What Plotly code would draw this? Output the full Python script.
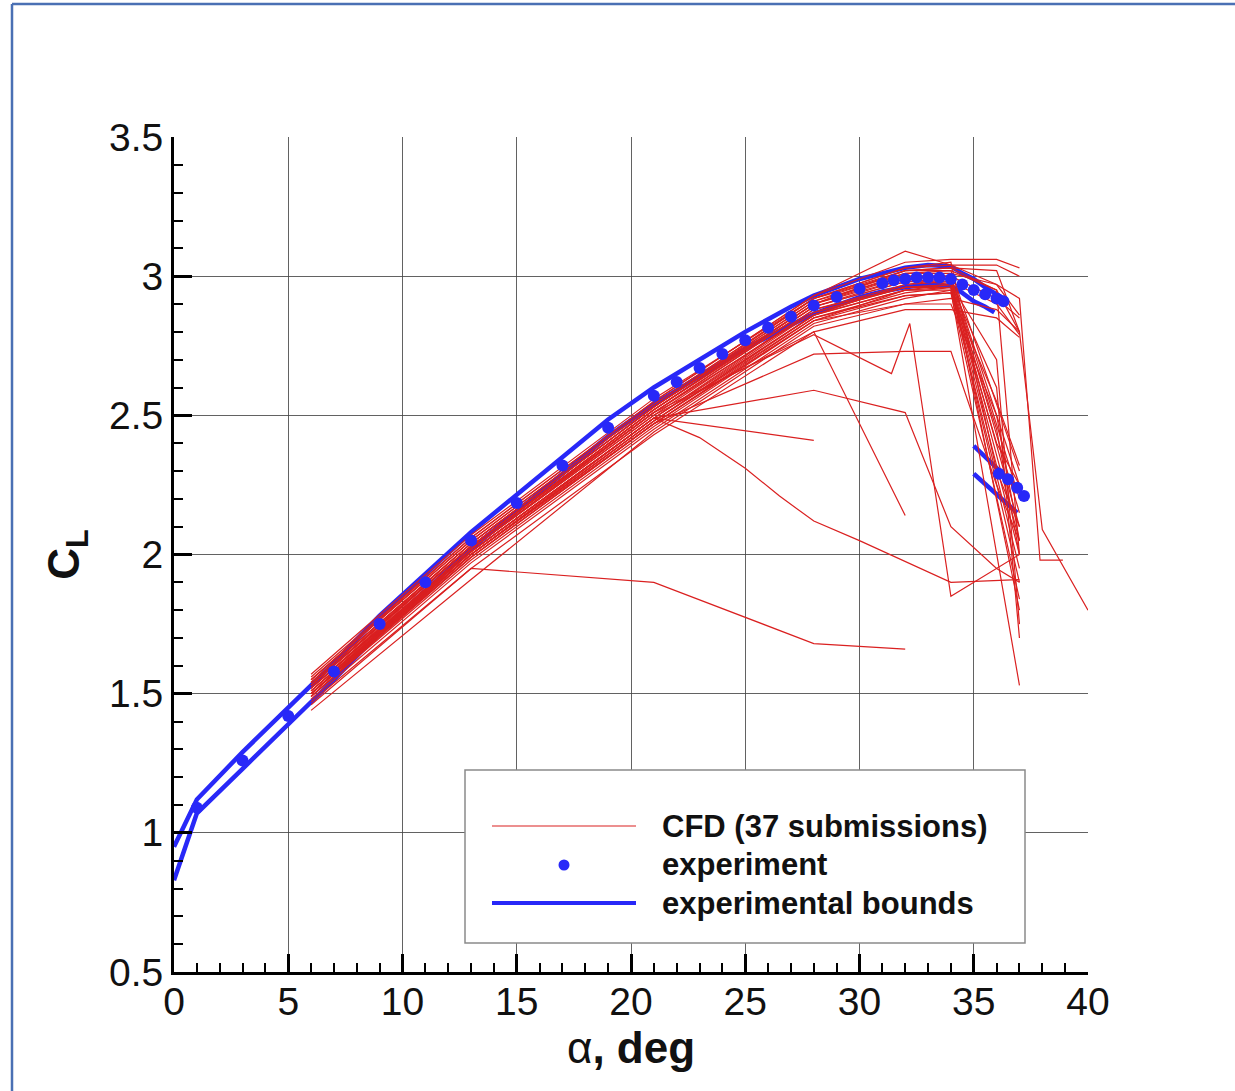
import plotly.graph_objects as go

# ---------------- data ----------------
# experiment (pre-stall branch)
exp_alpha = [1, 3, 5, 7, 9, 11, 13, 15, 17, 19, 21, 22, 23, 24, 25, 26, 27, 28, 29, 30,
             31, 31.5, 32, 32.5, 33, 33.5, 34, 34.5, 35, 35.5, 36, 36.3]
exp_cl = [1.09, 1.26, 1.42, 1.58, 1.75, 1.90, 2.05, 2.185, 2.32, 2.455, 2.57, 2.62, 2.67, 2.72,
          2.77, 2.815, 2.855, 2.895, 2.925, 2.955, 2.975, 2.985, 2.99, 2.995, 2.995, 2.995,
          2.99, 2.97, 2.95, 2.935, 2.92, 2.91]
# experiment (post-stall branch)
exp_post_alpha = [36.1, 36.5, 36.9, 37.2]
exp_post_cl = [2.29, 2.27, 2.24, 2.21]

# experimental bounds
upper_alpha = [0, 1, 3, 5, 7, 9, 11, 13, 15, 17, 19, 21, 23, 25, 27, 28, 29, 30, 31, 32,
               33, 34, 34.5, 35, 35.5, 36, 36.3]
upper_cl = [0.95, 1.12, 1.29, 1.45, 1.61, 1.78, 1.93, 2.08, 2.215, 2.35, 2.485, 2.60, 2.70,
            2.80, 2.89, 2.93, 2.96, 2.99, 3.01, 3.03, 3.04, 3.035, 3.01, 2.99, 2.96, 2.935, 2.92]
lower_alpha = [0, 1, 3, 5, 7, 9, 11, 13, 15, 17, 19, 21, 23, 25, 27, 28, 29, 30, 31, 32,
               33, 34, 34.5, 35, 35.5, 35.9]
lower_cl = [0.83, 1.07, 1.23, 1.39, 1.55, 1.72, 1.87, 2.02, 2.155, 2.29, 2.425, 2.54, 2.64,
            2.74, 2.825, 2.865, 2.895, 2.925, 2.945, 2.96, 2.97, 2.965, 2.94, 2.91, 2.89, 2.87]
upper_post_alpha = [35.0, 36.9]
upper_post_cl = [2.39, 2.24]
lower_post_alpha = [35.0, 36.9]
lower_post_cl = [2.29, 2.15]

# CFD submissions
a_std = [6, 13, 21, 28, 32, 34, 36, 37]
a_short = [6, 13, 21, 28, 32, 34, 37]

sub01_cl = [1.55, 2.05, 2.54, 2.92, 3.01, 3.02, 2.30]
sub02_cl = [1.54, 2.04, 2.53, 2.91, 3.00, 3.00, 2.25]
sub03_cl = [1.53, 2.03, 2.52, 2.90, 2.99, 3.00, 2.20]
sub04_cl = [1.53, 2.03, 2.51, 2.89, 2.98, 2.99, 2.15]
sub05_cl = [1.52, 2.02, 2.50, 2.88, 2.97, 2.98, 2.10]
sub06_cl = [1.52, 2.01, 2.49, 2.88, 2.96, 2.97, 2.05]
sub07_cl = [1.51, 2.01, 2.49, 2.87, 2.96, 2.96, 2.00]
sub08_cl = [1.50, 2.00, 2.48, 2.86, 2.95, 2.95, 1.95]
sub09_cl = [1.50, 1.99, 2.47, 2.85, 2.94, 2.96, 1.90]
sub10_cl = [1.49, 1.98, 2.46, 2.84, 2.93, 2.94, 1.84]
sub11_cl = [1.51, 2.00, 2.48, 2.86, 2.97, 2.99, 1.80]
sub12_cl = [1.48, 1.97, 2.45, 2.83, 2.92, 2.95, 1.53]

sub13_cl = [1.56, 2.06, 2.55, 2.93, 3.05, 3.06, 3.06, 3.03]
sub14_cl = [1.55, 2.05, 2.54, 2.92, 3.03, 3.04, 3.04, 3.00]
sub15_cl = [1.54, 2.04, 2.53, 2.91, 3.02, 3.02, 2.95, 2.80]
sub16_cl = [1.53, 2.03, 2.52, 2.90, 3.00, 3.00, 2.92, 2.85]
sub17_cl = [1.52, 2.02, 2.51, 2.89, 2.98, 2.98, 2.90, 2.79]
sub18_alpha = [6, 13, 21, 28, 32, 34, 36, 37, 38, 40]
sub18_cl = [1.54, 2.04, 2.53, 2.92, 3.02, 3.03, 3.02, 2.80, 2.09, 1.80]
sub19_alpha = [6, 13, 21, 28, 32, 34, 36, 37, 37.9, 38.9]
sub19_cl = [1.53, 2.03, 2.52, 2.90, 3.01, 3.01, 2.97, 2.92, 1.98, 1.98]
sub20_cl = [1.55, 2.06, 2.55, 2.93, 3.09, 3.04, 2.97, 2.86]
sub21_cl = [1.52, 2.01, 2.49, 2.86, 2.95, 2.96, 2.40, 2.25]
sub22_cl = [1.51, 2.00, 2.48, 2.85, 2.93, 2.94, 2.55, 2.32]
sub23_cl = [1.50, 1.99, 2.47, 2.84, 2.90, 2.90, 2.50, 2.05]
sub24_alpha = [6, 13, 21, 28, 32]
sub24_cl = [1.47, 1.95, 1.90, 1.68, 1.66]
sub25_alpha = [6, 13, 21, 28]
sub25_cl = [1.50, 2.01, 2.49, 2.41]
sub26_alpha = [6, 13, 21, 23, 25, 26.5, 28, 30, 34, 37]
sub26_cl = [1.49, 2.00, 2.49, 2.42, 2.31, 2.21, 2.12, 2.05, 1.90, 1.91]
sub27_cl = [1.50, 2.01, 2.49, 2.59, 2.51, 2.10, 1.95, 1.90]
sub28_alpha = [6, 13, 21, 28, 32]
sub28_cl = [1.51, 2.02, 2.50, 2.80, 2.14]
sub29_alpha = [6, 13, 21, 28, 31.4, 32.2, 34, 37]
sub29_cl = [1.52, 2.03, 2.51, 2.79, 2.65, 2.83, 1.85, 2.00]
sub30_cl = [1.50, 2.00, 2.47, 2.72, 2.73, 2.73, 2.25, 2.05]
sub31_cl = [1.53, 2.03, 2.52, 2.89, 2.99, 2.97, 2.60, 1.70]
sub32_cl = [1.53, 2.04, 2.53, 2.90, 3.02, 3.03, 2.95, 2.00]
sub33_cl = [1.46, 1.95, 2.43, 2.80, 2.88, 2.88, 2.85, 2.78]
sub34_cl = [1.44, 1.91, 2.44, 2.82, 2.90, 2.92, 2.88, 2.80]
sub35_cl = [1.57, 2.07, 2.56, 2.92, 3.03, 3.05, 2.30, 2.10]
sub36_cl = [1.50, 2.02, 2.51, 2.87, 2.96, 2.97, 2.45, 2.00]
sub37_cl = [1.49, 1.99, 2.47, 2.84, 2.95, 2.97, 2.70, 1.75]

cfd_runs = [
    (a_short, sub01_cl), (a_short, sub02_cl), (a_short, sub03_cl), (a_short, sub04_cl),
    (a_short, sub05_cl), (a_short, sub06_cl), (a_short, sub07_cl), (a_short, sub08_cl),
    (a_short, sub09_cl), (a_short, sub10_cl), (a_short, sub11_cl), (a_short, sub12_cl),
    (a_std, sub13_cl), (a_std, sub14_cl), (a_std, sub15_cl), (a_std, sub16_cl),
    (a_std, sub17_cl), (sub18_alpha, sub18_cl), (sub19_alpha, sub19_cl), (a_std, sub20_cl),
    (a_std, sub21_cl), (a_std, sub22_cl), (a_std, sub23_cl), (sub24_alpha, sub24_cl),
    (sub25_alpha, sub25_cl), (sub26_alpha, sub26_cl), (a_std, sub27_cl), (sub28_alpha, sub28_cl),
    (sub29_alpha, sub29_cl), (a_std, sub30_cl), (a_std, sub31_cl), (a_std, sub32_cl),
    (a_std, sub33_cl), (a_std, sub34_cl), (a_std, sub35_cl), (a_std, sub36_cl),
    (a_std, sub37_cl),
]

x_ticks = [0, 5, 10, 15, 20, 25, 30, 35, 40]
y_ticks = [0.5, 1, 1.5, 2, 2.5, 3, 3.5]
y_tick_text = ["0.5", "1", "1.5", "2", "2.5", "3", "3.5"]

legend_labels = ["CFD (37 submissions)", "experiment", "experimental bounds"]

# ---------------- style ----------------
RED = "rgb(218,32,32)"
BLUE = "rgb(40,40,248)"
FONT = "Liberation Sans, Arial, Helvetica, sans-serif"

W, H = 1235, 1091
L, R, T, B = 174, 147, 137, 119
PW, PH = W - L - R, H - T - B


def px(xp):
    return (xp - L) / PW


def py(yp):
    return (H - B - yp) / PH


fig = go.Figure()

# experimental bounds
fig.add_trace(go.Scatter(
    x=upper_alpha + [None] + lower_alpha + [None] + upper_post_alpha + [None] + lower_post_alpha,
    y=upper_cl + [None] + lower_cl + [None] + upper_post_cl + [None] + lower_post_cl,
    mode="lines", line=dict(color=BLUE, width=4.5), name=legend_labels[2],
    showlegend=False, hoverinfo="skip"))

# CFD
for i, (a, c) in enumerate(cfd_runs):
    fig.add_trace(go.Scatter(x=a, y=c, mode="lines",
                             line=dict(color=RED, width=1.2),
                             name=legend_labels[0], legendgroup="cfd",
                             showlegend=False))

# experiment
fig.add_trace(go.Scatter(
    x=exp_alpha + [None] + exp_post_alpha, y=exp_cl + [None] + exp_post_cl,
    mode="markers", marker=dict(color=BLUE, size=12, line=dict(width=0)),
    name=legend_labels[1], showlegend=False))

axis_common = dict(
    showline=True, linecolor="black", linewidth=3, mirror=False,
    ticks="inside", ticklen=18, tickwidth=3, tickcolor="black",
    showgrid=True, gridcolor="rgba(70,70,70,0.85)", gridwidth=1.3,
    zeroline=False,
    tickfont=dict(family=FONT, size=39, color="#111"),
)

fig.update_xaxes(range=[0, 40], tickvals=x_ticks, ticktext=[str(v) for v in x_ticks],
                 ticklabelstandoff=-7,
                 minor=dict(ticks="inside", ticklen=9, tickwidth=1.5, tickcolor="black",
                            dtick=1, tick0=0, showgrid=False),
                 title=dict(text="α<b>, deg</b>", font=dict(family=FONT, size=44, color="#111"),
                            standoff=0),
                 **axis_common)
fig.update_yaxes(range=[0.5, 3.5], tickvals=y_ticks, ticktext=y_tick_text,
                 minor=dict(ticks="inside", ticklen=9, tickwidth=1.5, tickcolor="black",
                            dtick=0.1, tick0=0.5, showgrid=False),
                 title=dict(text="<b>C<sub>L</sub></b>", font=dict(family=FONT, size=44, color="#111"),
                            standoff=16),
                 **axis_common)

shapes = []
# outer blue frame
fx, fy = px(12), py(4)
shapes.append(dict(type="line", xref="paper", yref="paper", x0=fx, x1=fx, y0=fy, y1=py(1200),
                   line=dict(color="#4a70b4", width=2.5)))
shapes.append(dict(type="line", xref="paper", yref="paper", x0=fx, x1=px(1300), y0=fy, y1=fy,
                   line=dict(color="#4a70b4", width=2.5)))

# legend box
shapes.append(dict(type="rect", xref="paper", yref="paper",
                   x0=px(465), x1=px(1025), y0=py(943), y1=py(770),
                   fillcolor="white", line=dict(color="#8a8a8a", width=1.5), layer="above"))
shapes.append(dict(type="line", xref="paper", yref="paper", x0=px(492), x1=px(636),
                   y0=py(826), y1=py(826), line=dict(color=RED, width=1.2), layer="above"))
shapes.append(dict(type="line", xref="paper", yref="paper", x0=px(492), x1=px(636),
                   y0=py(903), y1=py(903), line=dict(color=BLUE, width=4), layer="above"))
rx, ry = 5.5 / PW, 5.5 / PH
shapes.append(dict(type="circle", xref="paper", yref="paper",
                   x0=px(564) - rx, x1=px(564) + rx, y0=py(865) - ry, y1=py(865) + ry,
                   fillcolor=BLUE, line=dict(width=0), layer="above"))

annotations = []
for lab, yy in zip(legend_labels, [826, 864, 903]):
    annotations.append(dict(text="<b>" + lab + "</b>", xref="paper", yref="paper",
                            x=px(660), y=py(yy), xanchor="left", yanchor="middle",
                            showarrow=False, font=dict(family=FONT, size=31, color="#111")))

fig.update_layout(
    width=W, height=H,
    margin=dict(l=L, r=R, t=T, b=B, autoexpand=False),
    paper_bgcolor="white", plot_bgcolor="white",
    showlegend=False,
    shapes=shapes, annotations=annotations,
    font=dict(family=FONT),
)

fig.write_html("out.html")
